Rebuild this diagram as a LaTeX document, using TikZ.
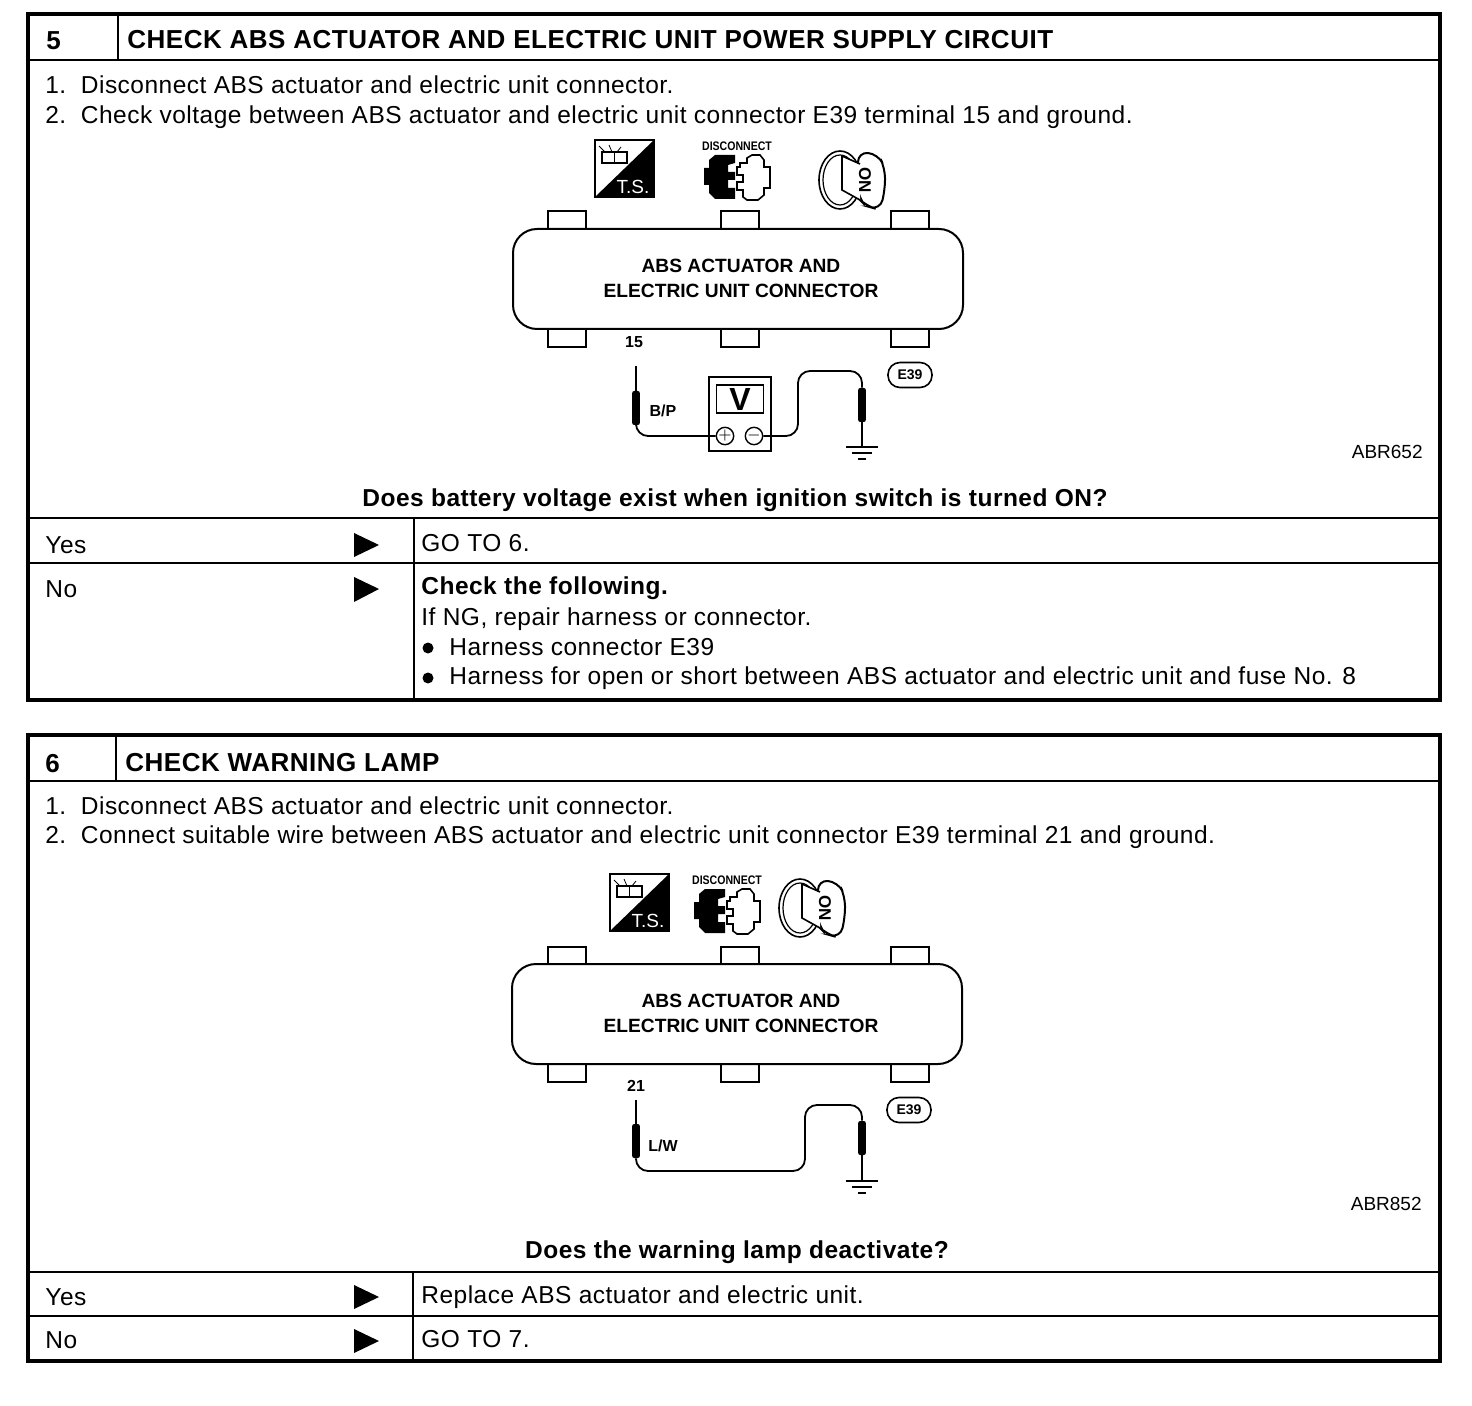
\documentclass[tikz,border=0pt]{standalone}
\usepackage{fontspec}
\setmainfont{Liberation Sans}
\newfontfamily\spacedfont[LetterSpace=2.0]{Liberation Sans}
\tikzset{
    x=0.5pt, y=-0.5pt,
    body-text/.style = {anchor=base west, inner sep=0pt, font=\spacedfont\fontsize{12.25}{14}\selectfont},
    bold-text/.style = {body-text, font=\spacedfont\fontsize{12.25}{14}\selectfont\bfseries},
    title-text/.style = {anchor=base west, inner sep=0pt, font=\spacedfont\fontsize{13}{15}\selectfont\bfseries},
    small-text/.style = {inner sep=0pt, font=\fontsize{8}{9}\selectfont\bfseries},
    code-text/.style = {anchor=base east, inner sep=0pt, font=\fontsize{9.5}{11}\selectfont},
    frame-line/.style = {line width=2pt},
    rule-line/.style = {line width=1pt},
    connector-box/.style = {draw, fill=white, line width=1pt, rounded corners=12pt, minimum width=225pt, minimum height=50pt},
    connector-label/.style = {inner sep=0pt, align=center, font=\fontsize{9.6}{12.5}\selectfont\bfseries},
    connector-tab/.style = {draw, fill=white, line width=1pt, minimum width=19pt, minimum height=10pt},
    meter-box/.style = {draw, line width=0.9pt, minimum width=31pt, minimum height=37pt, inner sep=0pt},
    meter-screen/.style = {draw, line width=0.9pt, minimum width=23.5pt, minimum height=14pt, inner sep=0pt, font=\fontsize{16}{16}\selectfont\bfseries},
    meter-pin/.style = {draw, circle, line width=0.7pt, minimum size=8pt, inner sep=0pt, font=\fontsize{8}{8}\selectfont},
    probe-body/.style = {fill=black, rounded corners=1pt, minimum width=3.8pt, minimum height=17pt, inner sep=0pt},
    wire/.style = {line width=0.9pt, rounded corners=6pt},
    harness-oval/.style = {draw, rounded corners=6pt, line width=0.8pt, minimum width=22pt, minimum height=12.5pt, inner sep=0pt, font=\fontsize{7}{8}\selectfont\bfseries},
    go-arrow/.style = {fill=black},
    pics/ts-icon/.style = {code={
        \draw[line width=0.7pt] (0,0) rectangle (59,57);
        \fill (59,0) -- (59,57) -- (0,57) -- cycle;
        \draw[line width=0.7pt] (7,12) rectangle (19.5,23) (19.5,12) rectangle (32,23);
        \draw[line width=0.4pt] (4,6) -- (10,12) (14,5) -- (17,12) (26,7) -- (22,12);
        \node[inner sep=0pt, text=white, font=\fontsize{9.5}{10}\selectfont] (-label) at (38,47) {T.S.};
    }},
    pics/disconnect-icon/.style = {code={
        \node[inner sep=0pt, xscale=0.85, font=\fontsize{6.2}{7}\selectfont\bfseries] (-label) at (0,-31) {DISCONNECT};
        \fill (-33,-9) -- (-28,-9) -- (-28,-17) -- (-22,-22) -- (-2,-22) -- (-2,-14) -- (-9,-12) -- (-9,-5) -- (-2,-5) -- (-2,3) -- (-9,3) -- (-9,11) -- (-2,11) -- (-2,22) -- (-22,22) -- (-28,16) -- (-28,8) -- (-33,8) -- cycle;
        \draw[line width=0.8pt] (3,-14) -- (10,-14) -- (10,-19) -- (15,-22) -- (23,-22) -- (27,-17) -- (27,-10) -- (33,-10) -- (33,11) -- (27,11) -- (27,18) -- (21,23) -- (10,23) -- (6,20) -- (6,13) -- (0,13) -- (0,5) -- (6,5) -- (6,-2) -- (0,-2) -- (0,-10) -- (3,-10) -- cycle;
    }},
    pics/key-icon/.style = {code={
        \draw[line width=0.8pt, fill=white] (-12,2) ellipse (21 and 29);
        \draw[line width=0.6pt] (-12,2) ellipse (17 and 25);
        \draw[line width=1pt, fill=white, rounded corners=5pt] (6,-26) -- (26,-24) -- (33,-10) -- (33,12) -- (28,32) -- (14,28) -- (6,20) -- cycle;
        \fill[white] (-10,-22) -- (8,-14) -- (8,22) -- (-10,12) -- cycle;
        \draw[line width=0.8pt] (-10,-22) -- (8,-14) (-10,-22) -- (-10,12) -- (8,22);
        \node[inner sep=0pt, rotate=-90, font=\fontsize{8.5}{9}\selectfont\bfseries] (-label) at (13,2) {ON};
    }},
    pics/ground-mark/.style = {code={
        \draw[line width=0.9pt] (-16,0) -- (16,0) (-10,6) -- (10,6) (-4,12) -- (4,12);
    }},
}
\begin{document}
\begin{tikzpicture}
\useasboundingbox (0,0) rectangle (1472,1406);
% panel 5
\draw[frame-line] (28,14) rectangle (1440,700);
\draw[rule-line] (30,60) -- (1438,60);
\draw[rule-line] (118,14) -- (118,60);
\draw[rule-line] (30,518) -- (1438,518);
\draw[rule-line] (30,563) -- (1438,563);
\draw[rule-line] (414,518) -- (414,700);
\node[title-text] (num5) at (46,50) {5};
\node[title-text] (title5) at (127,49) {CHECK ABS ACTUATOR AND ELECTRIC UNIT POWER SUPPLY CIRCUIT};
\node[body-text] (step5a) at (45,94) {1.\ \ Disconnect ABS actuator and electric unit connector.};
\node[body-text] (step5b) at (45,124) {2.\ \ Check voltage between ABS actuator and electric unit connector E39 terminal 15 and ground.};
\pic (ts5) at (595,140) {ts-icon};
\pic (disc5) at (737,177) {disconnect-icon};
\pic (key5) at (852,178) {key-icon};
\foreach \tabx in {567,740,910} {
    \node[connector-tab] at (\tabx,221) {};
    \node[connector-tab] at (\tabx,337) {};
}
\node[connector-box] (conn5) at (738,279) {};
\node[connector-label] (connlabel5) at (741,278) {ABS ACTUATOR AND\\ELECTRIC UNIT CONNECTOR};
\node[small-text] (pin15) at (634,342) {15};
\node[probe-body] (probe5a) at (636,408) {};
\node[probe-body] (probe5b) at (862,405) {};
\coordinate (tip5a) at (636,366);
\coordinate (tip5b) at (862,447);
\coordinate (bend5) at (798,371);
\node[meter-box] (meter5) at (740,414) {};
\node[meter-screen] (screen5) at (740,399) {V};
\node[meter-pin] (plus5) at (725,436) {$+$};
\node[meter-pin] (minus5) at (754,436) {$-$};
\draw[line width=0.9pt] (tip5a) -- (probe5a.north);
\draw[line width=0.9pt] (probe5b.south) -- (tip5b);
\draw[wire] (probe5a.south) |- (plus5.west);
\draw[wire] (minus5.east) -| (bend5) -| (probe5b.north);
\pic (gnd5) at (tip5b) {ground-mark};
\node[small-text] (wire5) at (663,411) {B/P};
\node[harness-oval] (e39a) at (910,375) {E39};
\node[code-text] (code5) at (1423,459) {ABR652};
\node[bold-text, anchor=base] (ask5) at (735,507) {Does battery voltage exist when ignition switch is turned ON?};
\node[body-text] (yes5) at (45,553) {Yes};
\fill[go-arrow] (354,533) -- (379,545) -- (354,557) -- cycle;
\node[body-text] (go5) at (421,552) {GO TO 6.};
\node[body-text] (no5) at (45,597) {No};
\fill[go-arrow] (354,577) -- (379,589) -- (354,602) -- cycle;
\node[bold-text] (chk5) at (421,595) {Check the following.};
\node[body-text] (ifng5) at (421,625) {If NG, repair harness or connector.};
\fill (428,648) circle (5.5);
\node[body-text] (item5a) at (449,655) {Harness connector E39};
\fill (428,678) circle (5.5);
\node[body-text] (item5b) at (449,684) {Harness for open or short between ABS actuator and electric unit and fuse No. 8};
% panel 6
\draw[frame-line] (28,735) rectangle (1440,1361);
\draw[rule-line] (30,781) -- (1438,781);
\draw[rule-line] (116,735) -- (116,781);
\draw[rule-line] (30,1272) -- (1438,1272);
\draw[rule-line] (30,1316) -- (1438,1316);
\draw[rule-line] (413,1272) -- (413,1361);
\node[title-text] (num6) at (45,772) {6};
\node[title-text] (title6) at (125,771) {CHECK WARNING LAMP};
\node[body-text] (step6a) at (45,814) {1.\ \ Disconnect ABS actuator and electric unit connector.};
\node[body-text] (step6b) at (45,843) {2.\ \ Connect suitable wire between ABS actuator and electric unit connector E39 terminal 21 and ground.};
\pic (ts6) at (610,874) {ts-icon};
\pic (disc6) at (727,911) {disconnect-icon};
\pic (key6) at (812,906) {key-icon};
\foreach \tabx in {567,740,910} {
    \node[connector-tab] at (\tabx,957) {};
    \node[connector-tab] at (\tabx,1072) {};
}
\node[connector-box] (conn6) at (737,1014) {};
\node[connector-label] (connlabel6) at (741,1013) {ABS ACTUATOR AND\\ELECTRIC UNIT CONNECTOR};
\node[small-text] (pin21) at (636,1086) {21};
\node[probe-body] (probe6a) at (636,1141) {};
\node[probe-body] (probe6b) at (862,1138) {};
\coordinate (tip6a) at (636,1100);
\coordinate (tip6b) at (862,1181);
\coordinate (bend6) at (805,1105);
\draw[line width=0.9pt] (tip6a) -- (probe6a.north);
\draw[line width=0.9pt] (probe6b.south) -- (tip6b);
\draw[wire] (probe6a.south) |- (bend6 |- 0,1171) -- (bend6) -| (probe6b.north);
\pic (gnd6) at (tip6b) {ground-mark};
\node[small-text] (wire6) at (663,1146) {L/W};
\node[harness-oval] (e39b) at (909,1110) {E39};
\node[code-text] (code6) at (1422,1210) {ABR852};
\node[bold-text, anchor=base] (ask6) at (737,1258) {Does the warning lamp deactivate?};
\node[body-text] (yes6) at (45,1305) {Yes};
\fill[go-arrow] (354,1285) -- (379,1297) -- (354,1309) -- cycle;
\node[body-text] (go6a) at (421,1303) {Replace ABS actuator and electric unit.};
\node[body-text] (no6) at (45,1348) {No};
\fill[go-arrow] (354,1329) -- (379,1341) -- (354,1353) -- cycle;
\node[body-text] (go6b) at (421,1347) {GO TO 7.};
\end{tikzpicture}
\end{document}
